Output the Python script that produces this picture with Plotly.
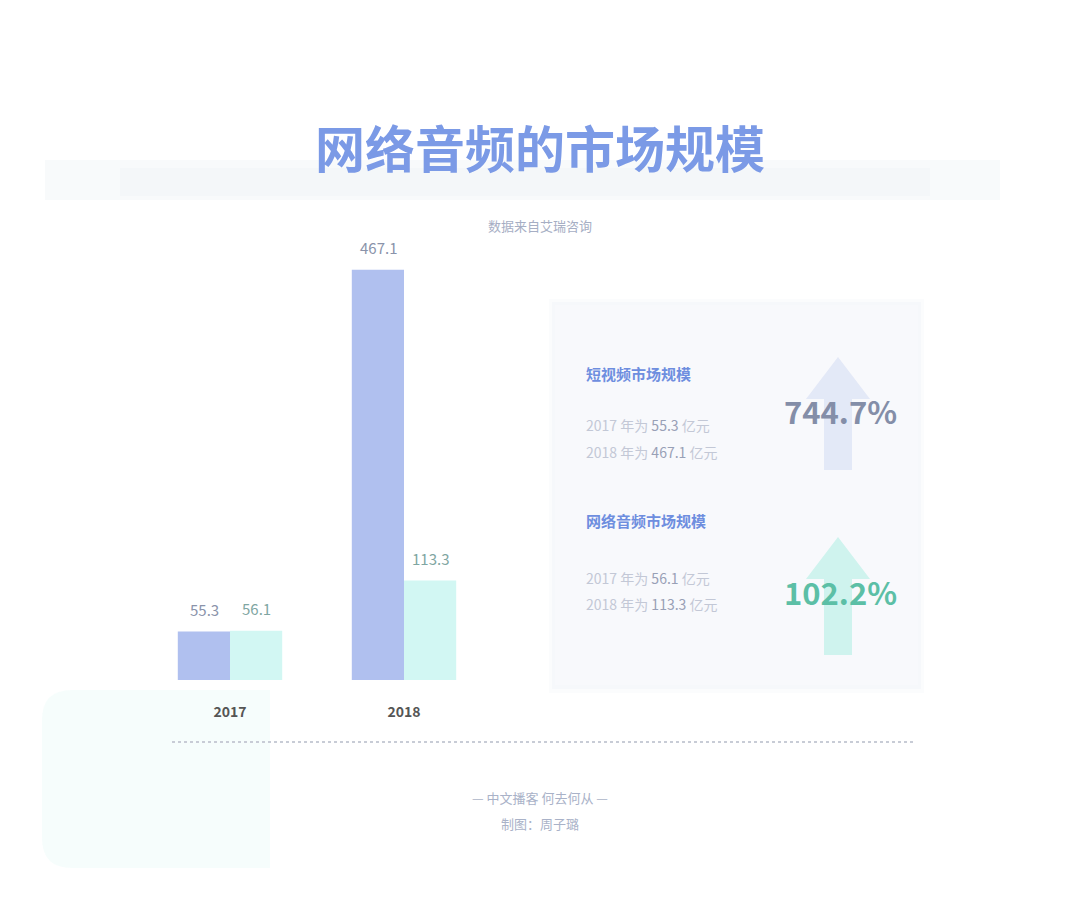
import plotly.graph_objects as go

# data
years = ["2017", "2018"]
short_video = [55.3, 467.1]
net_audio = [56.1, 113.3]
short_video_growth = "744.7%"
net_audio_growth = "102.2%"

W, H = 1080, 911
OFF = 8  # page body margin
FONT = "Noto Sans CJK SC"
BAR_PX = 52  # approx bar width, used to centre value labels


def px(x):
    return (x - OFF) / W


def py(y):
    return 1 - (y - OFF) / H


def rect(x0, y0, x1, y1, fill, layer="below"):
    return dict(type="rect", xref="paper", yref="paper", x0=px(x0), x1=px(x1),
                y0=py(y1), y1=py(y0), fillcolor=fill, line=dict(width=0), layer=layer)


def arrow(cx, top, bottom, fill):
    pts = [(cx, top), (cx + 32, top + 42), (cx + 14, top + 42), (cx + 14, bottom),
           (cx - 14, bottom), (cx - 14, top + 42), (cx - 32, top + 42)]
    path = "M " + " L ".join(f"{px(x)},{py(y)}" for x, y in pts) + " Z"
    return dict(type="path", xref="paper", yref="paper", path=path,
                fillcolor=fill, line=dict(width=0), layer="below")


fig = go.Figure()
fig.add_trace(go.Bar(
    x=years, y=short_video, name="短视频",
    marker=dict(color="#b0c0ef", line=dict(width=0)),
))
fig.add_trace(go.Bar(
    x=years, y=net_audio, name="网络音频",
    marker=dict(color="#d2f7f3", line=dict(width=0)),
))

shapes = [
    # soft teal block at bottom left
    dict(type="path", xref="paper", yref="paper",
         path=f"M {px(72)},{py(690)} L {px(270)},{py(690)} L {px(270)},{py(868)} "
              f"L {px(72)},{py(868)} Q {px(42)},{py(868)} {px(42)},{py(838)} "
              f"L {px(42)},{py(720)} Q {px(42)},{py(690)} {px(72)},{py(690)} Z",
         fillcolor="rgba(226,250,246,0.3)", line=dict(width=0), layer="below"),
    # band behind title
    rect(45, 160, 1000, 200, "rgba(240,243,246,0.45)"),
    rect(120, 168, 930, 196, "rgba(238,241,245,0.35)"),
    # card with soft shadow
    rect(549, 299, 924, 693, "rgba(240,242,248,0.25)"),
    rect(552, 302, 921, 689, "rgba(240,242,248,0.4)"),
    rect(555, 305, 918, 685, "#f8f9fc"),
    arrow(838, 357, 470, "rgba(214,221,243,0.6)"),
    arrow(838, 537, 655, "rgba(190,241,232,0.7)"),
    # dotted separator
    dict(type="line", xref="paper", yref="paper", x0=px(172), x1=px(913),
         y0=py(742), y1=py(742), line=dict(color="#c8ccd6", width=2, dash="dot")),
]


def label(x, y, text, size, color, anchor="left", weight="normal"):
    return dict(xref="paper", yref="paper", x=px(x), y=py(y), text=text, showarrow=False,
                xanchor=anchor, yanchor="middle",
                font=dict(family=FONT, size=size, color=color, weight=weight))


NUM = "#98a0b6"
LIGHT = "#c3c8d6"
annotations = [
    label(540, 146, "网络音频的市场规模", 50, "#7b9ae6", "center", "bold"),
    label(540, 225, "数据来自艾瑞咨询", 13, "#a6aec4", "center"),
    label(584, 373, "短视频市场规模", 15, "#6e8edf", weight="bold"),
    label(584, 425, f"<span style='color:{LIGHT}'>{years[0]} 年为 </span>{short_video[0]}"
                    f"<span style='color:{LIGHT}'> 亿元</span>", 14, NUM),
    label(584, 452, f"<span style='color:{LIGHT}'>{years[1]} 年为 </span>{short_video[1]}"
                    f"<span style='color:{LIGHT}'> 亿元</span>", 14, NUM),
    label(840, 410, short_video_growth, 31, "#848ea8", "center", "bold"),
    label(584, 520, "网络音频市场规模", 15, "#6e8edf", weight="bold"),
    label(584, 578, f"<span style='color:{LIGHT}'>{years[0]} 年为 </span>{net_audio[0]}"
                    f"<span style='color:{LIGHT}'> 亿元</span>", 14, NUM),
    label(584, 604, f"<span style='color:{LIGHT}'>{years[1]} 年为 </span>{net_audio[1]}"
                    f"<span style='color:{LIGHT}'> 亿元</span>", 14, NUM),
    label(840, 591, net_audio_growth, 31, "#5cbfa6", "center", "bold"),
    label(540, 797, "— 中文播客 何去何从 —", 13, "#a9b2c8", "center"),
    label(540, 823, "制图：周子璐", 13, "#a9b2c8", "center"),
]

# value labels above bars, anchored to data coordinates (category index)
for i, v in enumerate(short_video):
    annotations.append(dict(xref="x", yref="y", x=i, y=v, text=f"{v}", showarrow=False,
                            xshift=-BAR_PX / 2, yshift=22, yanchor="middle",
                            font=dict(family=FONT, size=15, color="#8a93aa")))
for i, v in enumerate(net_audio):
    annotations.append(dict(xref="x", yref="y", x=i, y=v, text=f"{v}", showarrow=False,
                            xshift=BAR_PX / 2, yshift=22, yanchor="middle",
                            font=dict(family=FONT, size=15, color="#7fa6a2")))

fig.update_layout(
    width=W, height=H,
    margin=dict(l=0, r=0, t=0, b=0),
    paper_bgcolor="white", plot_bgcolor="rgba(0,0,0,0)",
    barmode="group", bargap=0.4, bargroupgap=0,
    showlegend=False,
    font=dict(family=FONT),
    shapes=shapes,
    annotations=annotations,
    xaxis=dict(type="category", domain=[px(143), px(491)], range=[-0.5, 1.5],
               showgrid=False, zeroline=False, showline=False, ticks="", ticklabelstandoff=22,
               tickfont=dict(family=FONT, size=14, color="#555555", weight="bold")),
    yaxis=dict(domain=[py(680), py(240)], range=[0, 501], visible=False, showgrid=False),
)

fig.write_html("out.html")
